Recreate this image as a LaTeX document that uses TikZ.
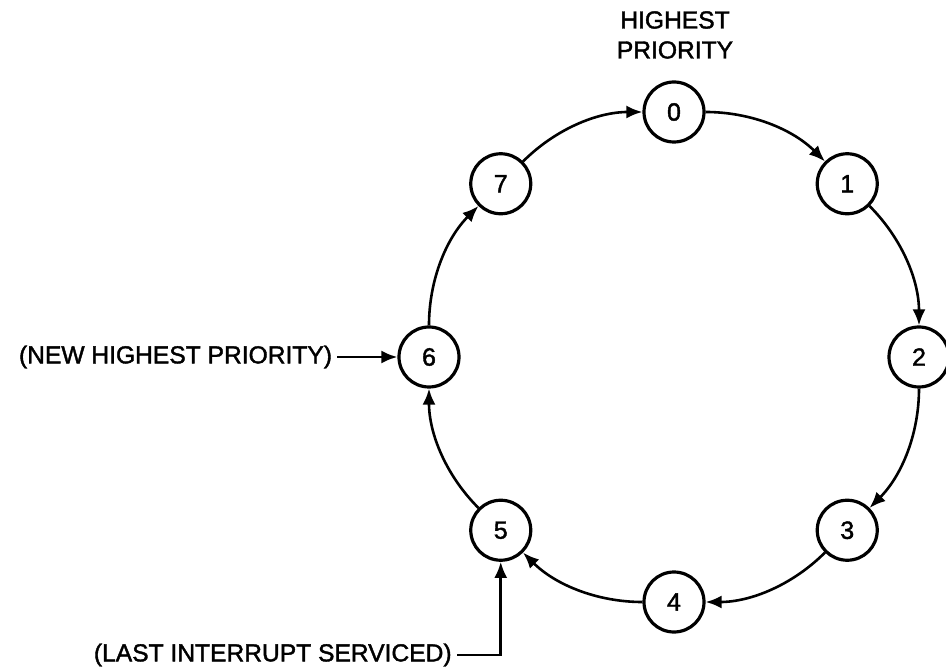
\documentclass[tikz,border=0pt]{standalone}
\usepackage{fontspec}
\setmainfont{Liberation Sans}[FakeBold=1.6]
\usepackage{tikz}
\usetikzlibrary{arrows.meta,positioning}

\begin{document}
\begin{tikzpicture}[x=0.5pt,y=0.5pt,
		pri/.style={draw, circle, line width=1.6pt, minimum size=30pt, inner sep=0pt, font=\fontsize{12.5}{15}\selectfont},
		lbl/.style={inner xsep=2.5pt, inner ysep=0pt, font=\fontsize{12.3}{15}\selectfont},
		ring/.style={line width=1.3pt, -{Latex[length=8pt,width=6.5pt]}}]
			\useasboundingbox (-674,-311) rectangle (272,357);
			\foreach \i in {0,...,7}
				\node[pri] (p\i) at ({90-45*\i}:245) {\i};
			\foreach \i [evaluate=\i as \j using {int(mod(\i+1,8))}] in {0,...,7}
				\draw[ring] (p\i) to[bend left=22.5, looseness=0.9] (p\j);
			\node[lbl, align=center] (top) at (1,322) {HIGHEST\\PRIORITY};
			\node[lbl, left=30pt of p6] (newp) {(NEW HIGHEST PRIORITY)};
			\node[lbl, anchor=east] (lastp) at (-217,-298) {(LAST INTERRUPT SERVICED)};
			\draw[ring] (newp) -- (p6);
			\draw[ring] (lastp.east) -| (p5);
		\end{tikzpicture}
\end{document}
